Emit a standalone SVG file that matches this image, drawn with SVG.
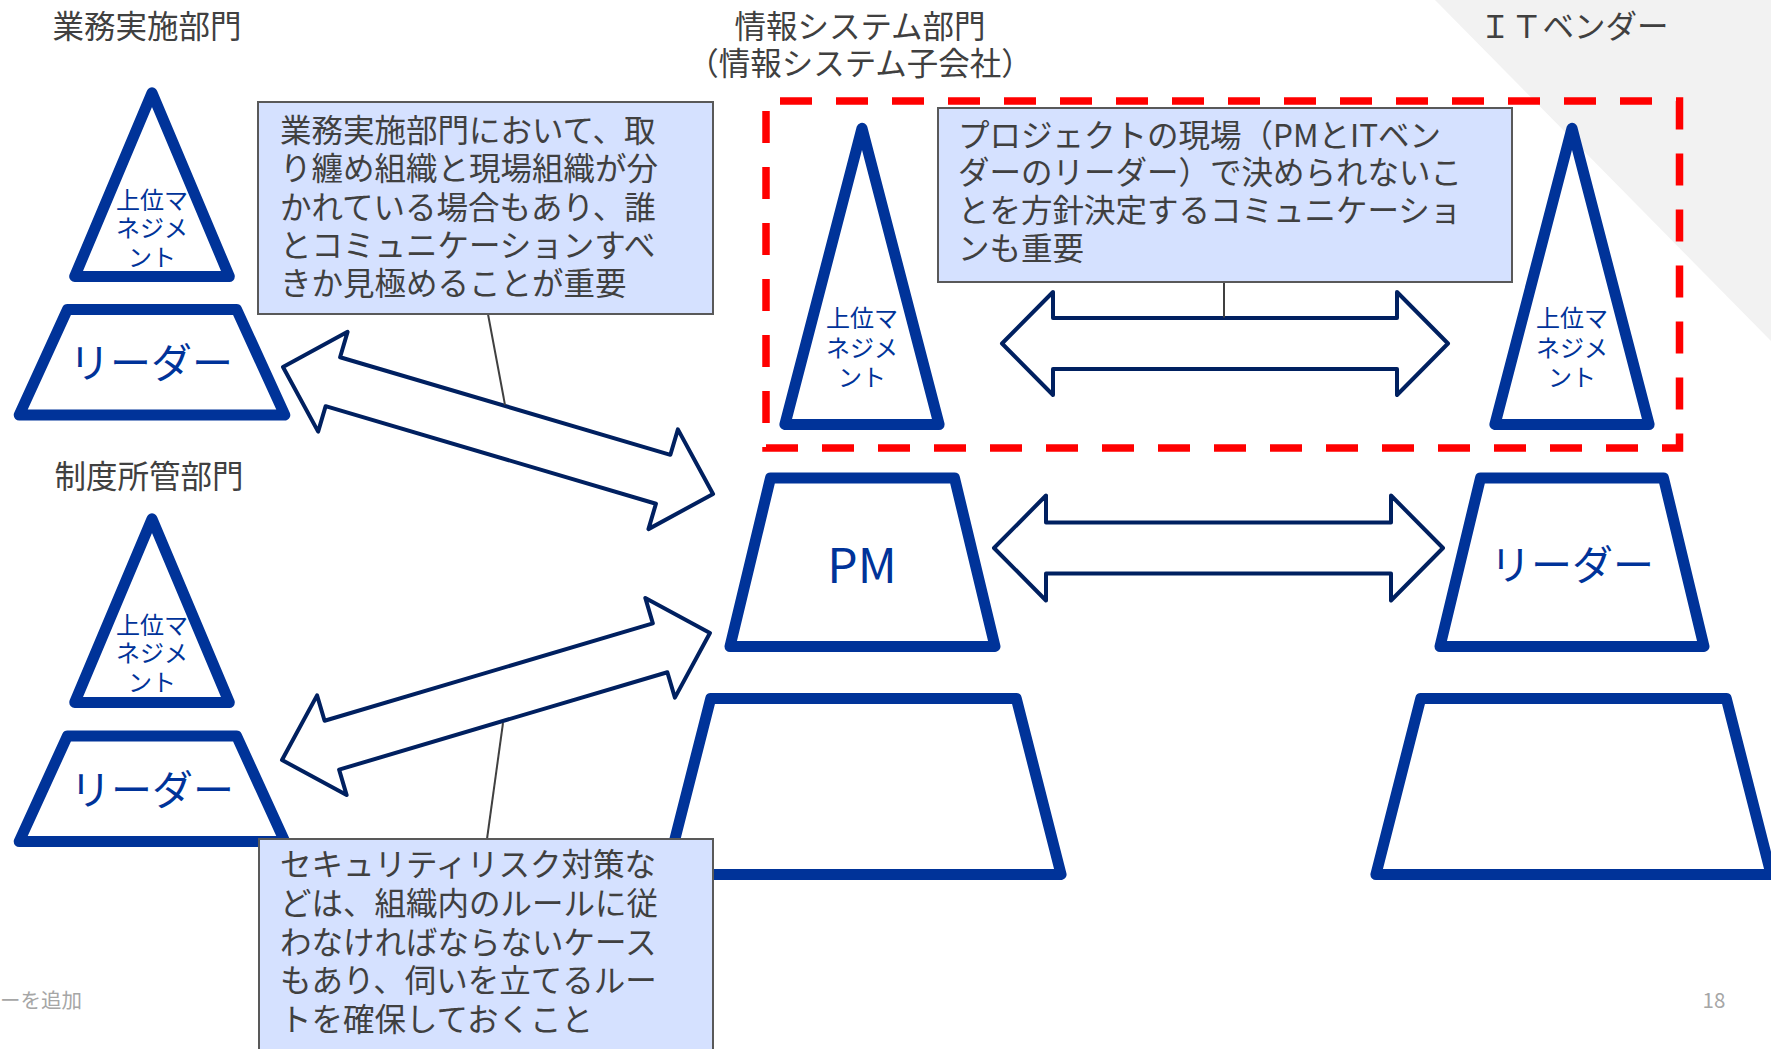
<svg xmlns="http://www.w3.org/2000/svg" width="1771" height="1049" viewBox="0 0 1771 1049">
<style>
  text{font-family:"Noto Sans CJK JP","Noto Sans",sans-serif}
  .ttl{fill:#404040;font-size:31.5px;text-anchor:middle}
  .ctx{fill:#404040;font-size:31.5px}
  .blue{fill:#ffffff;stroke:#003399;stroke-width:11;stroke-linejoin:round}
  .btx{fill:#003399;text-anchor:middle}
  .mg{font-size:24px}
  .ld{font-size:41px}
  .arrow{fill:#ffffff;stroke:#002060;stroke-width:4;stroke-linejoin:round}
  .box{fill:#D5E1FF;stroke:#595959;stroke-width:2}
  .cline{fill:none;stroke:#404040;stroke-width:2}
  .foot{fill:#A6A6A6;font-size:20.5px}
  .dash{fill:none;stroke:#FF0000;stroke-width:7.5;stroke-dasharray:32 24}
</style>
<rect x="0" y="0" width="1771" height="1049" fill="#ffffff"/>
<polygon points="1435,0 1771,0 1771,341" fill="#F2F2F2"/>

<g id="titles">
  <text class="ttl" x="147" y="38">業務実施部門</text>
  <text class="ttl" x="149" y="488">制度所管部門</text>
  <text class="ttl" x="860" y="38">情報システム部門</text>
  <text class="ttl" x="860" y="75">（情報システム子会社）</text>
  <text class="ttl" x="1574" y="38">ＩＴベンダー</text>
</g>

<g id="project-scope">
  <path class="dash" d="M766,448 H1679.5 V101 H766 Z"/>
</g>

<g id="biz-top">
  <polygon class="blue" points="152,92.8 74.7,276.5 229.3,276.5"/>
  <text class="btx mg" x="152" y="209">上位マ</text>
  <text class="btx mg" x="152" y="237">ネジメ</text>
  <text class="btx mg" x="152" y="266">ント</text>
</g>
<g id="biz-leader">
  <polygon class="blue" points="67.4,309.5 236.6,309.5 284.8,415 19.2,415"/>
  <text class="btx ld" x="151" y="378">リーダー</text>
</g>

<g id="reg-top">
  <polygon class="blue" points="152,518.8 74.7,702.5 229.3,702.5"/>
  <text class="btx mg" x="152" y="634">上位マ</text>
  <text class="btx mg" x="152" y="662">ネジメ</text>
  <text class="btx mg" x="152" y="691">ント</text>
</g>
<g id="reg-leader">
  <polygon class="blue" points="67.4,736 236.6,736 284.8,841.5 19.2,841.5"/>
  <text class="btx ld" x="152" y="805">リーダー</text>
</g>

<g id="is-top">
  <polygon class="blue" points="862,128.2 784.9,424.5 939.1,424.5"/>
  <text class="btx mg" x="862" y="327">上位マ</text>
  <text class="btx mg" x="862" y="357">ネジメ</text>
  <text class="btx mg" x="862" y="386">ント</text>
</g>
<g id="is-pm">
  <polygon class="blue" points="770.5,478 954.5,478 995,646.5 730,646.5"/>
  <text class="btx" x="862" y="583" font-size="48">PM</text>
</g>
<g id="is-staff">
  <polygon class="blue" points="710.7,698.5 1016.3,698.5 1061.1,874.5 665.9,874.5"/>
</g>

<g id="it-top">
  <polygon class="blue" points="1572,128.2 1494.9,424.5 1649.1,424.5"/>
  <text class="btx mg" x="1572" y="327">上位マ</text>
  <text class="btx mg" x="1572" y="357">ネジメ</text>
  <text class="btx mg" x="1572" y="386">ント</text>
</g>
<g id="it-leader">
  <polygon class="blue" points="1480.5,478 1663.5,478 1704,646.5 1440,646.5"/>
  <text class="btx ld" x="1572" y="580">リーダー</text>
</g>
<g id="it-staff">
  <polygon class="blue" points="1420.7,698.5 1726.3,698.5 1771.1,874.5 1375.9,874.5"/>
</g>

<g id="connectors">
  <polygon class="arrow" transform="translate(283,367) rotate(16.45)" points="0,0 52,-52 52,-25.5 396.4,-25.5 396.4,-52 448.4,0 396.4,52 396.4,25.5 52,25.5 52,52"/>
  <polygon class="arrow" transform="translate(282,760) rotate(-16.53)" points="0,0 52,-52 52,-25.5 394.4,-25.5 394.4,-52 446.4,0 394.4,52 394.4,25.5 52,25.5 52,52"/>
  <polygon class="arrow" transform="translate(1002,343.5)" points="0,0 51,-51.5 51,-25.5 395,-25.5 395,-51.5 446,0 395,51.5 395,25.5 51,25.5 51,51.5"/>
  <polygon class="arrow" transform="translate(994,548)" points="0,0 52,-52.5 52,-25.5 397,-25.5 397,-52.5 449,0 397,52.5 397,25.5 52,25.5 52,52.5"/>
  <line class="cline" x1="488" y1="314" x2="505" y2="405"/>
  <line class="cline" x1="1224" y1="282" x2="1224" y2="317.5"/>
  <line class="cline" x1="487" y1="839" x2="503" y2="723"/>
</g>

<g id="note-biz">
  <rect class="box" x="258" y="102" width="455" height="212"/>
  <text class="ctx" x="280" y="142">業務実施部門において、取</text>
  <text class="ctx" x="280" y="180">り纏め組織と現場組織が分</text>
  <text class="ctx" x="280" y="219">かれている場合もあり、誰</text>
  <text class="ctx" x="280" y="257">とコミュニケーションすべ</text>
  <text class="ctx" x="280" y="295">きか見極めることが重要</text>
</g>

<g id="note-project">
  <rect class="box" x="938" y="108" width="574" height="174"/>
  <text class="ctx" x="958" y="147">プロジェクトの現場（PMとITベン</text>
  <text class="ctx" x="958" y="184">ダーのリーダー）で決められないこ</text>
  <text class="ctx" x="958" y="222">とを方針決定するコミュニケーショ</text>
  <text class="ctx" x="958" y="260">ンも重要</text>
</g>

<g id="note-reg">
  <rect class="box" x="259" y="839" width="454" height="230"/>
  <text class="ctx" x="280" y="876">セキュリティリスク対策な</text>
  <text class="ctx" x="280" y="915">どは、組織内のルールに従</text>
  <text class="ctx" x="280" y="954">わなければならないケース</text>
  <text class="ctx" x="280" y="992">もあり、伺いを立てるルー</text>
  <text class="ctx" x="280" y="1031">トを確保しておくこと</text>
</g>

<g id="footer">
  <text class="foot" x="0" y="1008">ーを追加</text>
  <text class="foot" x="1714" y="1008" text-anchor="middle" font-size="24">18</text>
</g>
</svg>
